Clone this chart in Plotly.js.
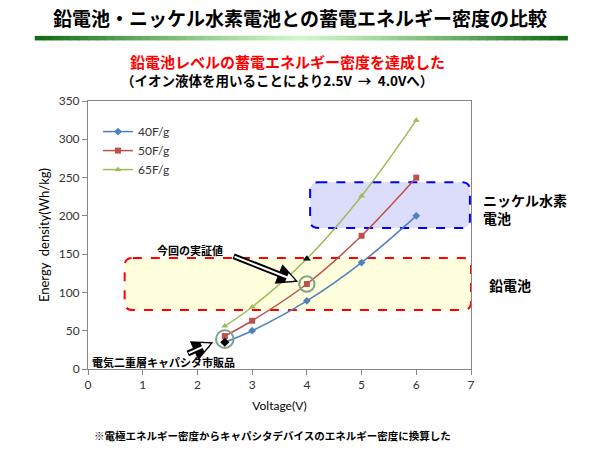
<!DOCTYPE html>
<html>
<head>
<meta charset="utf-8">
<script src="https://cdn.plot.ly/plotly-3.0.1.min.js"></script>
<style>
html,body{margin:0;padding:0;background:#fff;}
#chart{width:600px;height:450px;}
</style>
</head>
<body>
<div id="chart"></div>
<script>
// ---- data ----
var voltage = [2.5, 3, 4, 5, 6];
var series40 = [35, 50, 89, 139, 200];
var series50 = [43, 63, 111, 174, 250];
var series65 = [56, 81, 144, 226, 325];
var seriesNames = ['40F/g', '50F/g', '65F/g'];
var xTicks = [0, 1, 2, 3, 4, 5, 6, 7];
var yTicks = [0, 50, 100, 150, 200, 250, 300, 350];

var CJK = '"Noto Sans CJK JP", "Noto Sans CJK SC", sans-serif';
var LAT = 'Lato, "Noto Sans", sans-serif';

var traces = [
  {x: voltage, y: series40, name: seriesNames[0], type: 'scatter', mode: 'lines+markers',
   line: {color: '#4F81BD', width: 1.5, shape: 'spline', smoothing: 1},
   marker: {symbol: 'diamond', size: 6, color: '#4F81BD'}},
  {x: voltage, y: series50, name: seriesNames[1], type: 'scatter', mode: 'lines+markers',
   line: {color: '#C0504D', width: 1.5, shape: 'spline', smoothing: 1},
   marker: {symbol: 'square', size: 6, color: '#C0504D'}},
  {x: voltage, y: series65, name: seriesNames[2], type: 'scatter', mode: 'lines+markers',
   line: {color: '#9BBB59', width: 1.5, shape: 'spline', smoothing: 1},
   marker: {symbol: 'triangle-up', size: 6, color: '#9BBB59'}},
  // highlighted (black) markers
  {x: [voltage[0]], y: [series40[0]], type: 'scatter', mode: 'markers', showlegend: false,
   marker: {symbol: 'diamond', size: 7, color: '#000000'}},
  {x: [voltage[2]], y: [series65[2]], type: 'scatter', mode: 'markers', showlegend: false,
   marker: {symbol: 'triangle-up', size: 7, color: '#000000'}}
];

// rounded rect path in data coordinates
function roundRect(x0, y0, x1, y1, rx, ry) {
  return 'M' + (x0 + rx) + ',' + y1 +
    ' L' + (x1 - rx) + ',' + y1 +
    ' Q' + x1 + ',' + y1 + ' ' + x1 + ',' + (y1 - ry) +
    ' L' + x1 + ',' + (y0 + ry) +
    ' Q' + x1 + ',' + y0 + ' ' + (x1 - rx) + ',' + y0 +
    ' L' + (x0 + rx) + ',' + y0 +
    ' Q' + x0 + ',' + y0 + ' ' + x0 + ',' + (y0 + ry) +
    ' L' + x0 + ',' + (y1 - ry) +
    ' Q' + x0 + ',' + y1 + ' ' + (x0 + rx) + ',' + y1 + ' Z';
}

var shapes = [];
// gradient header bar
var N = 60, bx0 = -0.139, bx1 = 1.251;
for (var i = 0; i < N; i++) {
  var t = (i + 0.5) / N;
  var k = Math.pow(Math.abs(t - 0.5) * 2, 1.2);
  var r = Math.round(205 + (15 - 205) * k);
  var g = Math.round(247 + (105 - 247) * k);
  var b = Math.round(200 + (15 - 200) * k);
  shapes.push({type: 'rect', xref: 'paper', yref: 'paper',
    x0: bx0 + (bx1 - bx0) * i / N, x1: bx0 + (bx1 - bx0) * (i + 1) / N + 0.002,
    y0: 1.226, y1: 1.243, line: {width: 0}, fillcolor: 'rgb(' + r + ',' + g + ',' + b + ')', layer: 'above'});
}
// blue box (nickel-metal hydride)
shapes.push({type: 'path', xref: 'x', yref: 'y', layer: 'below',
  path: roundRect(4.06, 184, 6.98, 244, 0.15, 10.5),
  fillcolor: '#DCDDFA', line: {color: '#0000FF', width: 2, dash: 'dash'}});
// red box (lead battery)
shapes.push({type: 'path', xref: 'x', yref: 'y', layer: 'below',
  path: roundRect(0.67, 77, 7.0, 145, 0.15, 10.5),
  fillcolor: '#FFFFDD', line: {color: '#FF0000', width: 2, dash: 'dash'}});
// circles
shapes.push({type: 'circle', xref: 'x', yref: 'y', x0: 4 - 0.14, x1: 4 + 0.14, y0: 111 - 10, y1: 111 + 10,
  line: {color: '#7F9F8F', width: 2}, layer: 'above'});
shapes.push({type: 'circle', xref: 'x', yref: 'y', x0: 2.5 - 0.16, x1: 2.5 + 0.16, y0: 39 - 11.5, y1: 39 + 11.5,
  line: {color: '#7F9F8F', width: 2}, layer: 'above'});

function hollowArrow(x, y, ax, ay) {
  return [
    {x: x, y: y, xref: 'x', yref: 'y', ax: ax, ay: ay, text: '', showarrow: true,
     arrowhead: 2, arrowsize: 0.7, arrowwidth: 6, arrowcolor: '#000000'},
    {x: x, y: y, xref: 'x', yref: 'y', ax: ax, ay: ay, text: '', showarrow: true,
     arrowhead: 2, arrowsize: 0.9, arrowwidth: 2, arrowcolor: '#FFFFFF', standoff: 3, startstandoff: 1}
  ];
}

function label(text, xref, yref, x, y, size, color, xanchor) {
  return {text: text, xref: xref, yref: yref, x: x, y: y, xanchor: xanchor || 'center', yanchor: 'middle',
    align: 'left', showarrow: false, font: {family: CJK, size: size, color: color, weight: 'bold'}};
}

var annotations = [
  label('鉛電池レベルの蓄電エネルギー密度を達成した', 'paper', 'paper', 0.52, 1.146, 15, '#FF0000'),
  label('（イオン液体を用いることにより2.5V &nbsp;→ &nbsp;4.0Vへ）', 'paper', 'paper', 0.493, 1.078, 13.5, '#000000'),
  label('ニッケル水素<br>電池', 'paper', 'paper', 1.026, 0.597, 14, '#000000', 'left'),
  label('鉛電池', 'paper', 'paper', 1.042, 0.313, 14, '#000000', 'left'),
  label('今回の実証値', 'x', 'y', 1.86, 155, 11, '#000000'),
  label('電気二重層キャパシタ市販品', 'x', 'y', 1.38, 8.5, 11, '#000000'),
  label('※電極エネルギー密度からキャパシタデバイスのエネルギー密度に換算した', 'paper', 'paper', 0.481, -0.248, 10.5, '#000000')
].concat(hollowArrow(3.84, 114, -66, -26)).concat(hollowArrow(2.29, 35, -27, 12));

var layout = {
  width: 600, height: 450,
  margin: {l: 88, r: 129, t: 101, b: 81},
  paper_bgcolor: '#FFFFFF', plot_bgcolor: '#FFFFFF',
  title: {text: '鉛電池・ニッケル水素電池との蓄電エネルギー密度の比較', x: 0.5, xanchor: 'center',
    y: 0.957, yanchor: 'middle', yref: 'container',
    font: {family: CJK, size: 19, color: '#000000', weight: 'bold'}},
  showlegend: true,
  legend: {x: 0.026, y: 0.94, xanchor: 'left', yanchor: 'top', bgcolor: 'rgba(0,0,0,0)',
    font: {family: LAT, size: 12, color: '#333333'}, itemwidth: 30, tracegroupgap: 0},
  xaxis: {range: [0, 7], tickvals: xTicks, ticktext: xTicks.map(String), showgrid: false, zeroline: false,
    showline: true, mirror: true, linecolor: '#868686', linewidth: 1,
    ticks: 'outside', ticklen: 5, tickcolor: '#868686',
    tickfont: {family: LAT, size: 12, color: '#333333'},
    title: {text: 'Voltage(V)', standoff: 10, font: {family: LAT, size: 12, color: '#000000'}}},
  yaxis: {range: [0, 350], tickvals: yTicks, ticktext: yTicks.map(String), showgrid: false, zeroline: false,
    showline: true, mirror: true, linecolor: '#868686', linewidth: 1,
    ticks: 'outside', ticklen: 5, tickcolor: '#868686',
    tickfont: {family: LAT, size: 12, color: '#333333'},
    title: {text: 'Energy  density(Wh/kg)', standoff: 6, font: {family: LAT, size: 13, color: '#000000'}}},
  shapes: shapes,
  annotations: annotations
};

Plotly.newPlot('chart', traces, layout, {displayModeBar: false, staticPlot: true});
</script>
</body>
</html>
